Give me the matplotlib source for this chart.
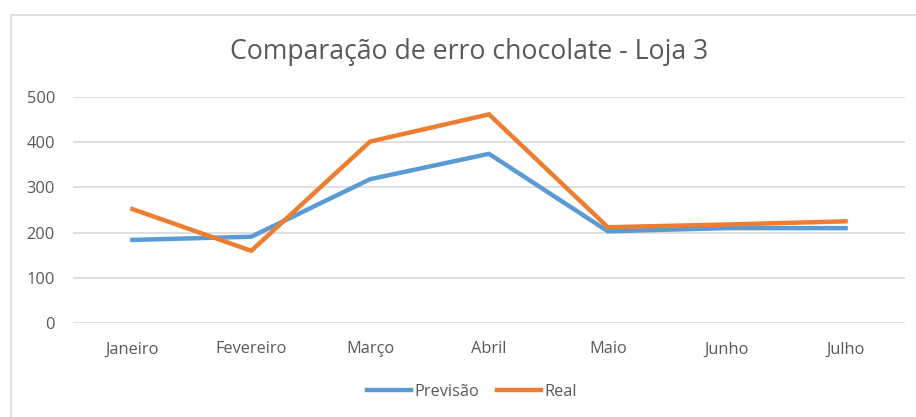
import matplotlib
matplotlib.use("Agg")
import matplotlib.pyplot as plt
from matplotlib.patches import Rectangle

months = ["Janeiro", "Fevereiro", "Março", "Abril", "Maio", "Junho", "Julho"]
previsao = [184, 191, 318, 374, 203, 210, 210]
real = [252, 160, 401, 461, 212, 218, 225]
yticks = [0, 100, 200, 300, 400, 500]

W, H = 916, 417
fig = plt.figure(figsize=(W / 100, H / 100), dpi=100)
fig.patch.set_facecolor("white")

# chart border
fig.patches.append(Rectangle((11 / W, -0.2), 1.5, (H - 15) / H + 0.2,
                             transform=fig.transFigure, fill=False,
                             edgecolor="#D9D9D9", linewidth=1.2))

ax = fig.add_axes([73 / W, (H - 323.3) / H, 832 / W, 226.6 / H])
x = range(len(months))
ax.plot(x, previsao, color="#5B9BD5", linewidth=3.2, label="Previsão",
        solid_joinstyle="miter")
ax.plot(x, real, color="#ED7D31", linewidth=3.2, label="Real",
        solid_joinstyle="miter")

ax.set_xlim(-0.5, len(months) - 0.5)
ax.set_ylim(0, 500)
ax.set_yticks(yticks)
ax.set_xticks(list(x))
ax.set_xticklabels(months)
for s in ax.spines.values():
    s.set_visible(False)
ax.grid(axis="y", color="#D9D9D9", linewidth=1.2)
ax.set_axisbelow(True)
ax.tick_params(axis="both", length=0, labelsize=11.8, labelcolor="#595959")
ax.tick_params(axis="y", pad=13)
ax.tick_params(axis="x", pad=13)
for lab in ax.get_xticklabels() + ax.get_yticklabels():
    lab.set_family("Open Sans")

fig.text(469 / W, 1 - 52 / H, "Comparação de erro chocolate - Loja 3",
         ha="center", va="center", fontsize=19.2, color="#595959",
         family="Open Sans")

fig.legend(loc="center", bbox_to_anchor=(472 / W, 25 / H), ncol=2,
           frameon=False, handlelength=2.7, handletextpad=0.2,
           columnspacing=1.1, prop={"family": "Open Sans", "size": 11.8},
           labelcolor="#595959")

fig.savefig("out.png", dpi=100, facecolor="white")
